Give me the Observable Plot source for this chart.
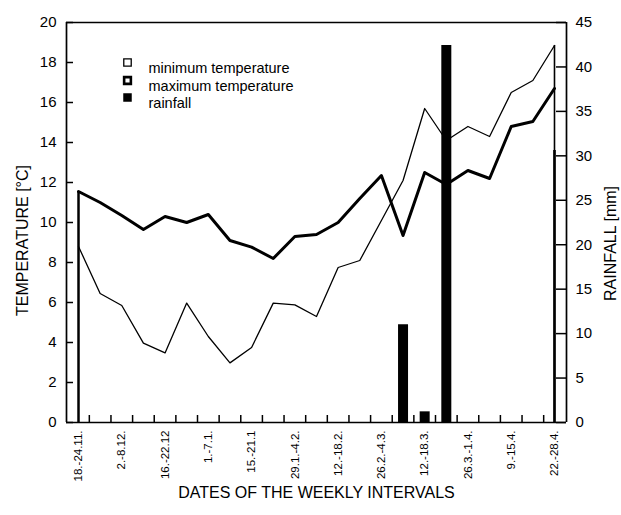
<!DOCTYPE html>
<html><head><meta charset="utf-8">
<script src="https://cdn.jsdelivr.net/npm/d3@7"></script>
<script src="https://cdn.jsdelivr.net/npm/@observablehq/plot@0.6"></script>
<style>body{margin:0;background:#fff}</style>
</head><body><div id="chart"></div><pre id="dbg" style="position:absolute;left:300px;top:30px;font-size:8px;margin:0"></pre>
<script>
// weekly intervals 18.-24.11. ... 22.-28.4. (23 weeks)
const weekIndex = d3.range(23);
const tMin = [8.8, 6.45, 5.85, 3.97, 3.48, 5.97, 4.3, 2.98, 3.75, 5.97, 5.88, 5.3, 7.75, 8.1, 10.1, 12.1, 15.7, 14.1, 14.8, 14.3, 16.5, 17.1, 18.85];
const tMax = [11.55, 11.0, 10.35, 9.65, 10.3, 10.0, 10.4, 9.1, 8.77, 8.2, 9.3, 9.4, 10.0, 11.2, 12.35, 9.35, 12.5, 11.9, 12.6, 12.2, 14.8, 15.05, 16.7];
const rainfall = [0,0,0,0,0,0,0,0,0,0,0,0,0,0,0, 11.0, 1.2, 42.4, 0,0,0,0,0];
const tickLabels = ["18.-24.11.","2.-8.12.","16.-22.12","1.-7.1.","15.-21.1","29.1.-4.2.","12.-18.2.","26.2.-4.3.","12.-18.3.","26.3.-1.4.","9.-15.4.","22.-28.4."];
const tickWeeks = [0,2,4,6,8,10,12,14,16,18,20,22];
const tempTicks = d3.range(0, 21, 2);
const rainTicks = d3.range(0, 46, 5);
const legendItems = ["minimum temperature", "maximum temperature", "rainfall"];
const titleLeft = "TEMPERATURE [°C]", titleRight = "RAINFALL [mm]", titleX = "DATES OF THE WEEKLY INTERVALS";

const K = 20 / 45; // rainfall mm -> temperature axis units
const rows = weekIndex.map(i => ({i, tmin: tMin[i], tmax: tMax[i], rain: rainfall[i]}));
const boundaries = d3.range(22).map(i => i + 0.5);
const xDomain = [-0.555, 22.555];
const W = 621, H = 515, mL = 66, mR = 55, mT = 22, mB = 93;
const kx = (W - mL - mR) / (xDomain[1] - xDomain[0]); // px per week
const ky = (H - mT - mB) / 20; // px per degree

try {
const chart = Plot.plot({
  width: W, height: H,
  marginTop: mT, marginBottom: mB, marginLeft: mL, marginRight: mR,
  style: {fontFamily: "'Liberation Sans', Arial, sans-serif", fontSize: "15px", color: "#000", background: "#fff"},
  x: {type: "linear", domain: xDomain},
  y: {domain: [0, 20]},
  marks: [
    Plot.ruleX(rows.filter(d => d.rain > 0), {x: "i", y1: 0, y2: d => d.rain * K, stroke: "#000", strokeWidth: 10}),
    Plot.lineY(rows, {x: "i", y: "tmin", stroke: "#000", strokeWidth: 1.3}),
    Plot.lineY(rows, {x: "i", y: "tmax", stroke: "#000", strokeWidth: 3}),
    Plot.ruleX([rows[0]], {x: "i", y1: 0, y2: "tmax", stroke: "#000", strokeWidth: 2.5}),
    Plot.ruleX([rows[22]], {x: "i", y1: 0, y2: "tmin", stroke: "#000", strokeWidth: 1.6}),
    Plot.ruleX([rows[22]], {x: "i", y1: 0, y2: 13.6, stroke: "#000", strokeWidth: 2.6}),
    // inward ticks
    Plot.ruleY(tempTicks, {y: d => d, x1: xDomain[0], x2: xDomain[0] + 7 / kx, stroke: "#000", strokeWidth: 1.5}),
    Plot.ruleY(rainTicks, {y: d => d * K, x1: xDomain[1] - 10 / kx, x2: xDomain[1], stroke: "#000", strokeWidth: 1.5}),
    Plot.ruleX(boundaries, {x: d => d, y1: 0, y2: 7 / ky, stroke: "#000", strokeWidth: 1.5}),
    // frame
    Plot.ruleY([0, 20], {stroke: "#000", strokeWidth: 1.7}),
    Plot.ruleX(xDomain, {stroke: "#000", strokeWidth: 1.7}),
    // axis labels
    Plot.axisY(tempTicks, {anchor: "left", tickSize: 0, tickPadding: 10, label: null, fontSize: 15}),
    Plot.axisY(rainTicks.map(v => v * K), {anchor: "right", tickSize: 0, tickPadding: 9, label: null, fontSize: 15, tickFormat: d => String(Math.round(d / K))}),
    Plot.axisX(tickWeeks, {anchor: "bottom", tickSize: 0, tickPadding: 8, tickRotate: -90, label: null, fontSize: 11.5, tickFormat: d => tickLabels[tickWeeks.indexOf(d)]}),
    // titles
    Plot.text([titleLeft], {text: d => d, frameAnchor: "left", textAnchor: "middle", dx: -44, dy: 18, rotate: -90, fontSize: 16}),
    Plot.text([titleRight], {text: d => d, frameAnchor: "right", textAnchor: "middle", dx: 44, dy: 21, rotate: -90, fontSize: 16}),
    Plot.text([titleX], {text: d => d, frameAnchor: "bottom", textAnchor: "middle", dy: 75, fontSize: 16}),
    // legend
    Plot.dot([legendItems[0]], {frameAnchor: "top-left", dx: 61, dy: 40, symbol: "square", r: 4.2, fill: "#fff", stroke: "#000", strokeWidth: 1.3}),
    Plot.dot([legendItems[1]], {frameAnchor: "top-left", dx: 61, dy: 58, symbol: "square", r: 3.8, fill: "#fff", stroke: "#000", strokeWidth: 2.6}),
    Plot.dot([legendItems[2]], {frameAnchor: "top-left", dx: 61, dy: 75, symbol: "square", r: 4.8, fill: "#000", stroke: "none"}),
    Plot.text([legendItems[0]], {text: d => d, frameAnchor: "top-left", dx: 82, dy: 40, textAnchor: "start", fontSize: 14.5}),
    Plot.text([legendItems[1]], {text: d => d, frameAnchor: "top-left", dx: 82, dy: 58, textAnchor: "start", fontSize: 14.5}),
    Plot.text([legendItems[2]], {text: d => d, frameAnchor: "top-left", dx: 82, dy: 75, textAnchor: "start", fontSize: 14.5})
  ]
});
document.getElementById("chart").appendChild(chart);
d3.select(chart).selectAll("g").each(function() { this.getBBox(); });
} catch (e) { document.getElementById("dbg").textContent = "ERR " + e; }
</script>
</body></html>
